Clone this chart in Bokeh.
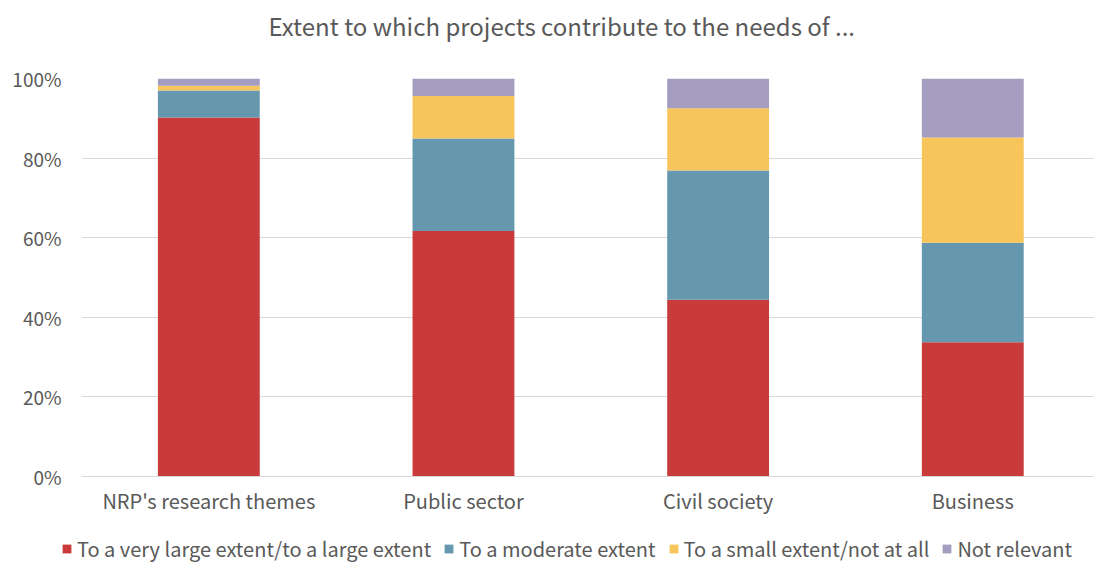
from bokeh.plotting import figure
from bokeh.layouts import column, row
from bokeh.models import (ColumnDataSource, Legend, LegendItem, FixedTicker, NumeralTickFormatter,
                          Range1d, Label)
from bokeh.embed import file_html
from bokeh.resources import INLINE

title_text = "Extent to which projects contribute to the needs of ..."
categories = ["NRP's research themes", "Public sector", "Civil society", "Business"]
very_large = [0.902, 0.617, 0.444, 0.337]
moderate = [0.068, 0.232, 0.325, 0.250]
small = [0.012, 0.107, 0.156, 0.265]
not_relevant = [0.018, 0.044, 0.075, 0.148]
series_names = ["To a very large extent/to a large extent", "To a moderate extent",
                "To a small extent/not at all", "Not relevant"]
colors = ["#C83B3A", "#6598AF", "#F7C55B", "#A59DC0"]

FONT = "Noto Sans CJK JP"
GREY = "#595959"
W = 1094

x = list(range(len(categories)))
source = ColumnDataSource(dict(x=x, s0=very_large, s1=moderate, s2=small, s3=not_relevant))
stack_cols = ["s0", "s1", "s2", "s3"]


def strip(height):
    f = figure(width=W, height=height, output_backend="svg", toolbar_location=None,
               x_range=Range1d(0, W), y_range=Range1d(0, height),
               x_axis_location=None, y_axis_location=None,
               min_border_top=0, min_border_left=0, min_border_right=0, min_border_bottom=0)
    f.outline_line_color = None
    f.xgrid.grid_line_color = None
    f.ygrid.grid_line_color = None
    return f


# title strip
pt = strip(50)
pt.add_layout(Label(x=268, y=25, text=title_text, text_font=FONT, text_font_size="24px",
                    text_color=GREY, text_align="left", text_baseline="middle"))

# main chart
p = figure(width=W, height=467, output_backend="svg", toolbar_location=None,
           x_range=Range1d(-0.5, 3.478), y_range=Range1d(0, 1),
           min_border_top=28, min_border_left=81, min_border_right=0, min_border_bottom=41)
p.outline_line_color = None
p.background_fill_color = "white"

renderers = p.vbar_stack(stack_cols, x="x", width=0.4, color=colors,
                         line_color=None, source=source)

p.xgrid.grid_line_color = None
p.ygrid.grid_line_color = "#D9D9D9"
p.ygrid.grid_line_width = 1
p.yaxis.ticker = FixedTicker(ticks=[0, 0.2, 0.4, 0.6, 0.8, 1.0])
p.yaxis.formatter = NumeralTickFormatter(format="0%")
p.yaxis.axis_line_color = None
p.yaxis.major_tick_line_color = None
p.yaxis.minor_tick_line_color = None
p.yaxis.major_label_text_font = FONT
p.yaxis.major_label_text_font_size = "19px"
p.yaxis.major_label_text_color = GREY
p.yaxis.major_label_standoff = 14

p.xaxis.ticker = FixedTicker(ticks=x)
p.xaxis.major_label_overrides = {i: c for i, c in enumerate(categories)}
p.xaxis.axis_line_color = "#D9D9D9"
p.xaxis.major_tick_line_color = None
p.xaxis.minor_tick_line_color = None
p.xaxis.major_label_text_font = FONT
p.xaxis.major_label_text_font_size = "20px"
p.xaxis.major_label_text_color = GREY
p.xaxis.major_label_standoff = 3

# legend strip below the chart (hidden copies of the series provide the legend swatches)
pl = strip(46)
hidden = pl.vbar_stack(stack_cols, x="x", width=0.4, color=colors, line_color=None,
                       source=source, visible=False)
items = [LegendItem(label=n, renderers=[r]) for n, r in zip(series_names, hidden)]
legend = Legend(items=items, orientation="horizontal", location=(61, 0),
                label_text_font=FONT, label_text_font_size="20px", label_text_color=GREY,
                glyph_width=11, glyph_height=11, label_standoff=5, spacing=12,
                inactive_fill_alpha=0, border_line_color=None, padding=0, margin=0,
                background_fill_alpha=0)
pl.add_layout(legend, "center")

open("out.html", "w").write(file_html(column(row(pt), p, row(pl), spacing=0), INLINE))
